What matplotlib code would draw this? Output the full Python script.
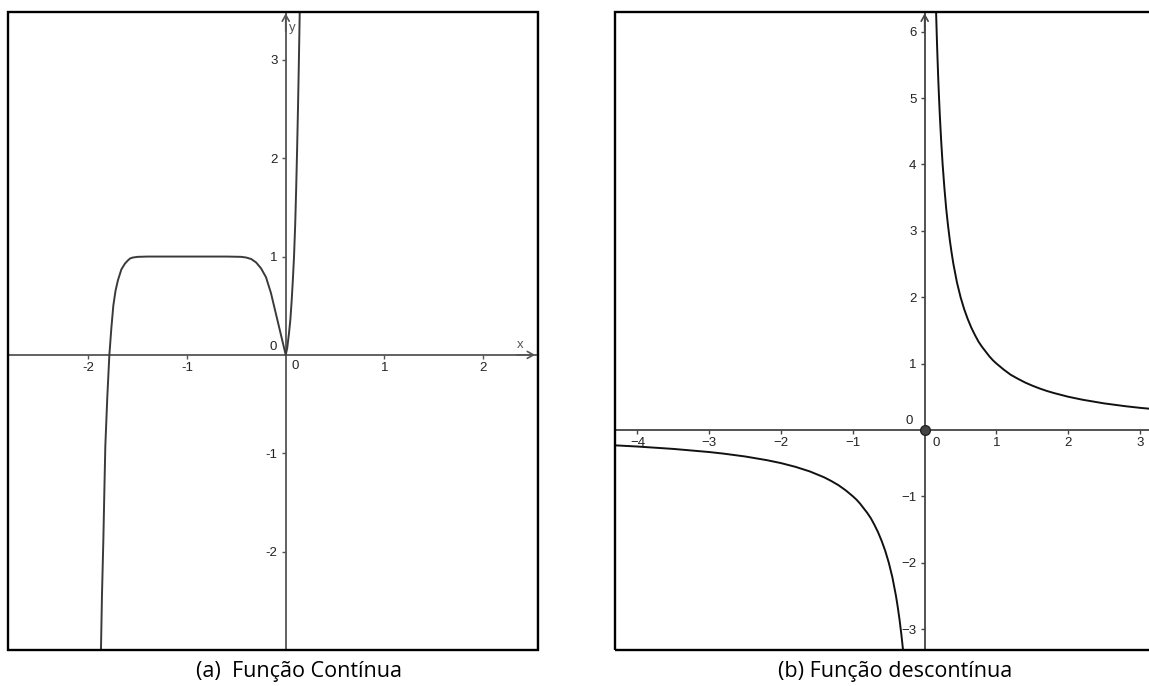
import matplotlib
matplotlib.use("Agg")
import matplotlib.pyplot as plt
from matplotlib.patches import Rectangle

# ---------------- data ----------------
# (a) continuous function
cont_x = [-1.874, -1.862, -1.848, -1.838, -1.828, -1.808, -1.787, -1.767, -1.747, -1.725,
          -1.700, -1.665, -1.628, -1.600, -1.578, -1.550, -1.500, -1.400, -1.200, -1.000,
          -0.800, -0.600, -0.450, -0.400, -0.350, -0.300, -0.250, -0.200, -0.150, -0.100,
          -0.050, 0.000, 0.015, 0.033, 0.047, 0.060, 0.072, 0.084, 0.096, 0.106, 0.115,
          0.124, 0.132, 0.140, 0.145]
cont_y = [-3.10, -2.45, -1.885, -1.40, -0.93, -0.43, 0.00, 0.27, 0.50, 0.65,
          0.76, 0.87, 0.93, 0.96, 0.98, 0.99, 0.997, 1.00, 1.00, 1.00,
          1.00, 1.00, 0.997, 0.99, 0.975, 0.94, 0.88, 0.79, 0.63, 0.42,
          0.21, 0.00, 0.07, 0.22, 0.36, 0.55, 0.76, 1.00, 1.33, 1.70, 2.08,
          2.50, 2.92, 3.38, 3.70]
cont_xticks = [-2, -1, 1, 2]
cont_yticks = [-2, -1, 1, 2, 3]

# (b) discontinuous function, two branches
pos_x = [0.152, 0.160, 0.170, 0.180, 0.190, 0.200, 0.210, 0.220, 0.230, 0.250, 0.275,
         0.300, 0.325, 0.350, 0.375, 0.400, 0.450, 0.500, 0.550, 0.600, 0.650, 0.700,
         0.750, 0.800, 0.850, 0.900, 0.950, 1.000, 1.100, 1.200, 1.300, 1.400, 1.500,
         1.600, 1.700, 1.800, 2.000, 2.200, 2.500, 2.800, 3.000, 3.200]
pos_y = [6.55, 6.25, 5.88, 5.56, 5.26, 5.00, 4.76, 4.55, 4.35, 4.00, 3.64,
         3.33, 3.08, 2.86, 2.67, 2.50, 2.22, 2.00, 1.82, 1.67, 1.54, 1.43,
         1.33, 1.25, 1.18, 1.11, 1.05, 1.00, 0.91, 0.83, 0.77, 0.714, 0.667,
         0.625, 0.588, 0.556, 0.500, 0.455, 0.400, 0.357, 0.333, 0.313]
neg_x = [-4.40, -4.00, -3.50, -3.00, -2.80, -2.50, -2.20, -2.00, -1.80, -1.60, -1.40,
         -1.30, -1.20, -1.10, -1.00, -0.95, -0.90, -0.85, -0.80, -0.75, -0.70, -0.65,
         -0.60, -0.55, -0.50, -0.45, -0.40, -0.375, -0.35, -0.325, -0.30]
neg_y = [-0.227, -0.250, -0.286, -0.333, -0.357, -0.400, -0.455, -0.500, -0.556, -0.625, -0.714,
         -0.770, -0.833, -0.910, -1.000, -1.050, -1.110, -1.180, -1.250, -1.330, -1.430, -1.540,
         -1.670, -1.820, -2.000, -2.220, -2.500, -2.670, -2.860, -3.080, -3.330]
disc_point_x = [0.0]
disc_point_y = [0.0]
disc_xticks = [-4, -3, -2, -1, 1, 2, 3]
disc_yticks = [-3, -2, -1, 1, 2, 3, 4, 5, 6]

captions = ["(a)  Função Contínua", "(b) Função descontínua"]

# ---------------- figure ----------------
W, H = 1149, 686
fig = plt.figure(figsize=(W / 100, H / 100), dpi=100)
PX = 72 / 100  # points per pixel
FAM = ["Liberation Sans", "DejaVu Sans"]


def px_axes(l, t, r, b):
    return fig.add_axes([l / W, 1 - b / H, (r - l) / W, (b - t) / H])


def geo_axes(ax, xlim, ylim, xticks, yticks, axcol, xlabels, ylabels, xarrow=True):
    ax.set_xlim(*xlim)
    ax.set_ylim(*ylim)
    for s in ("top", "right"):
        ax.spines[s].set_visible(False)
    ax.spines["left"].set_position(("data", 0))
    ax.spines["bottom"].set_position(("data", 0))
    for s in ("left", "bottom"):
        ax.spines[s].set_color(axcol)
        ax.spines[s].set_linewidth(1.3)
        ax.spines[s].set_zorder(1)
    ax.set_xticks(xticks)
    ax.set_xticklabels(xlabels)
    ax.set_yticks(yticks)
    ax.set_yticklabels(ylabels)
    ax.tick_params(axis="both", direction="out", length=3, width=1.0, color=axcol,
                   labelsize=9.5, labelcolor="#222222")
    ax.tick_params(axis="x", pad=2)
    ax.tick_params(axis="y", pad=3)
    for lab in ax.get_xticklabels() + ax.get_yticklabels():
        lab.set_family(FAM)
    ax.annotate("", xy=(0, ylim[1] - 0.002 * (ylim[1] - ylim[0])),
                xytext=(0, ylim[1] - 0.03 * (ylim[1] - ylim[0])),
                arrowprops=dict(arrowstyle="->,head_length=0.45,head_width=0.25",
                                color=axcol, lw=1.2, shrinkA=0, shrinkB=0))
    if xarrow:
        ax.annotate("", xy=(xlim[1] - 0.006 * (xlim[1] - xlim[0]), 0),
                    xytext=(xlim[1] - 0.04 * (xlim[1] - xlim[0]), 0),
                    arrowprops=dict(arrowstyle="->,head_length=0.45,head_width=0.25",
                                    color=axcol, lw=1.2, shrinkA=0, shrinkB=0))
    ax.add_patch(Rectangle((0, 0), 1, 1, transform=ax.transAxes, fill=False,
                           lw=1.7, ec="black", clip_on=False, zorder=10))


def zero_labels(ax, ydx, ydy, xdx, xdy):
    kw = dict(xy=(0, 0), textcoords="offset points", ha="center", va="center",
              fontsize=9.5, color="#222222", family=FAM)
    ax.annotate("0", xytext=(ydx * PX, ydy * PX), **kw)
    ax.annotate("0", xytext=(xdx * PX, xdy * PX), **kw)


# ---- panel (a) ----
axL = px_axes(8, 12, 538.4, 649.6)
xlimL = (-2.814, 2.560)
ylimL = (-2.997, 3.487)
geo_axes(axL, xlimL, ylimL, cont_xticks, cont_yticks, "#555555",
         [str(v) for v in cont_xticks], [str(v) for v in cont_yticks])
axL.plot(cont_x, cont_y, color="#3a3a3a", lw=1.4, zorder=3, solid_joinstyle="round")
zero_labels(axL, -13, 7.7, 9.3, -11)
axL.text(2.379, 0.10, "x", fontsize=9.5, color="#555555", ha="center", va="center", family=FAM)
axL.text(0.071, 3.323, "y", fontsize=9.5, color="#555555", ha="center", va="center", family=FAM)
axL.plot([0.9966, 0.9966], [0, 1], transform=axL.transAxes, color="#b0b0b0", lw=1.0)

# ---- panel (b) ----
axR = px_axes(614.5, 12, 1150.5, 649.6)
xlimR = (-4.320, 3.145)
ylimR = (-3.310, 6.298)
geo_axes(axR, xlimR, ylimR, disc_xticks, disc_yticks, "#444444",
         ["\u2212" + str(-v) if v < 0 else str(v) for v in disc_xticks],
         ["\u2212" + str(-v) if v < 0 else str(v) for v in disc_yticks], xarrow=False)
axR.plot(pos_x, pos_y, color="#111111", lw=1.4, zorder=3, solid_joinstyle="round")
axR.plot(neg_x, neg_y, color="#111111", lw=1.4, zorder=3, solid_joinstyle="round")
axR.plot(disc_point_x, disc_point_y, "o", ms=7, mfc="#444444", mec="#222222", mew=1.0,
         zorder=5, clip_on=False)
zero_labels(axR, -15.7, 9, 11.3, -12.7)

# ---- captions ----
cap_kw = dict(fontsize=15.5, color="black", ha="center", va="center",
              family=["Open Sans", "DejaVu Sans"])
fig.text(299 / W, 1 - 671 / H, captions[0], **cap_kw)
fig.text(895 / W, 1 - 671 / H, captions[1], **cap_kw)

fig.savefig("out.png", dpi=100, facecolor="white")
